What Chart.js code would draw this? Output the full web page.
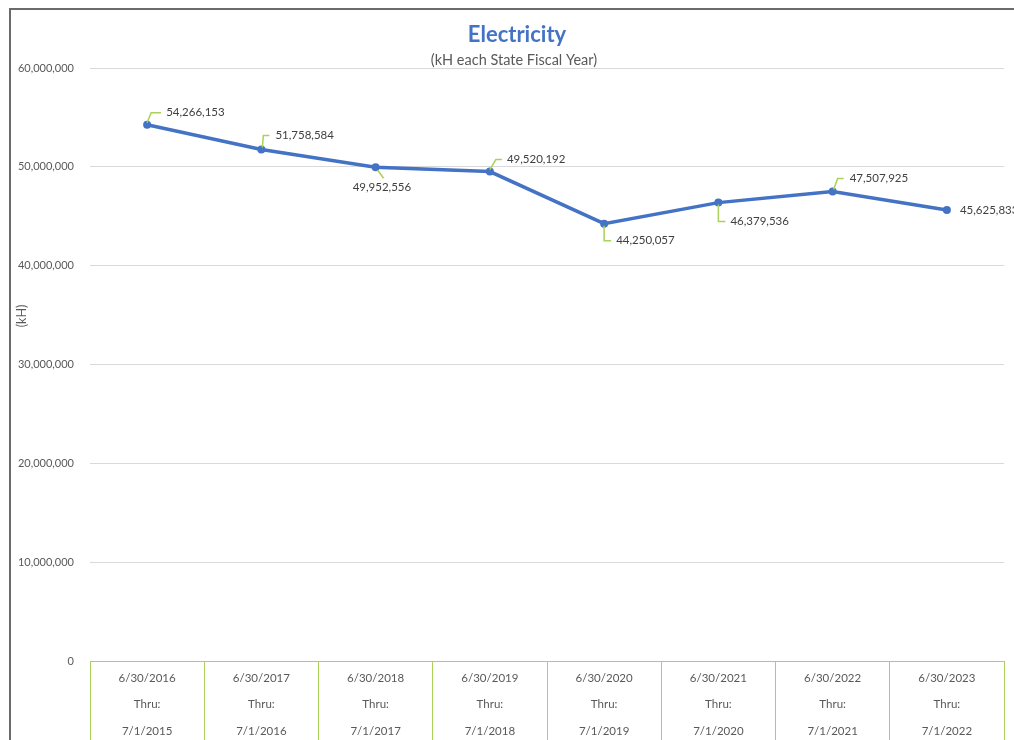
<!DOCTYPE html>
<html lang='en'>
<head>
    <meta charset='UTF-8'>
    <title>Electricity</title>
    <script src="https://cdnjs.cloudflare.com/ajax/libs/Chart.js/4.4.0/chart.umd.min.js"></script>
    <style>
        body{ margin:0; background:#fff; }
        #chart_parent{ width:1014px; height:740px; }
    </style>
</head>
<body>
<div id="chart_parent">
    <canvas id="myChart" width="1014" height="740"></canvas>
</div>
<script>
    // data
    var v_endDates   = ['6/30/2016', '6/30/2017', '6/30/2018', '6/30/2019', '6/30/2020', '6/30/2021', '6/30/2022', '6/30/2023'];
    var v_startDates = ['7/1/2015', '7/1/2016', '7/1/2017', '7/1/2018', '7/1/2019', '7/1/2020', '7/1/2021', '7/1/2022'];
    var v_values     = [54266153, 51758584, 49952556, 49520192, 44250057, 46379536, 47507925, 45625833];
    var v_yTicks     = [0, 10000000, 20000000, 30000000, 40000000, 50000000, 60000000];

    var v_labels = v_endDates.map(function(d, i){ return [d, 'Thru:', v_startDates[i]]; });

    var FONT = 'Lato, "Open Sans", sans-serif';
    var GREEN = '#A9D15B';
    var BLUE = '#4472C4';
    var GRAY = '#595959';

    // leader line + label placement per point (relative to the point)
    var v_lblStyle = [
        {line: [[0,-2],[4,-12],[14,-12]], dx: 19, dy: -12},
        {line: [[1,-2],[2,-14],[8,-14]],  dx: 14, dy: -14},
        {line: [[2,3],[8,11]],            dx: -23, dy: 20},
        {line: [[0,-2],[6,-12],[12,-12]], dx: 17, dy: -12},
        {line: [[0,2],[0,17],[7,17]],     dx: 12, dy: 17},
        {line: [[0,2],[0,19],[7,19]],     dx: 12, dy: 19},
        {line: [[1,-2],[5,-13],[11,-13]], dx: 17, dy: -13},
        {line: null,                      dx: 13, dy: 0}
    ];

    var p_decor = {
        id: 'decor',
        beforeDraw: function(chart){
            var c = chart.ctx;
            c.save();
            c.fillStyle = '#fff';
            c.fillRect(0, 0, chart.width, chart.height);
            // outer frame (top and left only visible)
            c.strokeStyle = '#6b6b6b';
            c.lineWidth = 2;
            c.beginPath();
            c.moveTo(10, 740);
            c.lineTo(10, 9);
            c.lineTo(1014, 9);
            c.stroke();
            // titles
            c.textAlign = 'center';
            c.textBaseline = 'middle';
            c.fillStyle = BLUE;
            c.font = 'bold 22px ' + FONT;
            c.fillText('Electricity', 517, 35);
            c.fillStyle = GRAY;
            c.font = '14.5px ' + FONT;
            c.fillText('(kH each State Fiscal Year)', 514, 60);
            // y axis title
            c.translate(22, 316);
            c.rotate(-Math.PI / 2);
            c.font = '12.5px ' + FONT;
            c.fillText('(kH)', 0, 0);
            c.restore();
        },
        afterDatasetsDraw: function(chart){
            var c = chart.ctx;
            var pts = chart.getDatasetMeta(0).data;
            c.save();
            c.font = '11.5px ' + FONT;
            c.textBaseline = 'middle';
            c.textAlign = 'left';
            pts.forEach(function(p, i){
                var s = v_lblStyle[i];
                if (s.line) {
                    c.strokeStyle = GREEN;
                    c.lineWidth = 1.5;
                    c.beginPath();
                    s.line.forEach(function(q, k){
                        if (k === 0) c.moveTo(p.x + q[0], p.y + q[1]);
                        else c.lineTo(p.x + q[0], p.y + q[1]);
                    });
                    c.stroke();
                }
                c.fillStyle = '#404040';
                c.fillText(v_values[i].toLocaleString('en-US'), p.x + s.dx, p.y + s.dy);
            });
            c.restore();
        }
    };

    const ctx = document.getElementById('myChart').getContext('2d');
    const myChart = new Chart(ctx, {
        type: 'line',
        data: {
            labels: v_labels,
            datasets: [{
                data: v_values,
                borderColor: BLUE,
                backgroundColor: BLUE,
                borderWidth: 3.5,
                pointRadius: 4,
                pointHoverRadius: 4,
                pointBorderWidth: 0,
                tension: 0
            }]
        },
        options: {
            responsive: false,
            animation: false,
            layout: { padding: { left: 0, right: 10, top: 68, bottom: 0 } },
            plugins: {
                legend: { display: false },
                tooltip: { enabled: false }
            },
            scales: {
                x: {
                    offset: true,
                    grid: { drawOnChartArea: false, drawTicks: true, tickLength: 79, color: GREEN, lineWidth: 1, offset: true },
                    border: { color: GREEN, width: 1 },
                    ticks: {
                        padding: -75,
                        color: GRAY,
                        maxRotation: 0,
                        autoSkip: false,
                        font: { family: FONT, size: 11.5, lineHeight: 2.3 }
                    },
                    afterFit: function(s){ s.height = 79; }
                },
                y: {
                    min: v_yTicks[0],
                    max: v_yTicks[v_yTicks.length - 1],
                    afterBuildTicks: function(s){ s.ticks = v_yTicks.map(function(v){ return {value: v}; }); },
                    ticks: {
                        padding: 16,
                        color: GRAY,
                        font: { family: FONT, size: 11 },
                        callback: function(v){ return v.toLocaleString('en-US'); }
                    },
                    grid: { color: '#D9D9D9', drawTicks: false },
                    border: { display: false },
                    afterFit: function(s){ s.width = 90; }
                }
            }
        },
        plugins: [p_decor]
    });
</script>
</body>
</html>
